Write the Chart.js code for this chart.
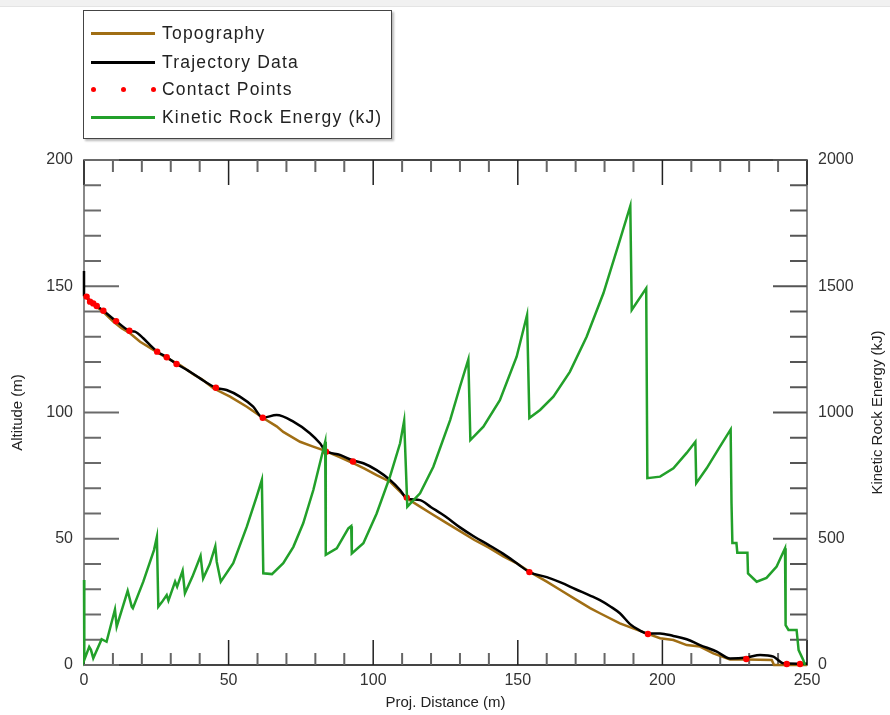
<!DOCTYPE html>
<html>
<head>
<meta charset="utf-8">
<script src="https://cdn.jsdelivr.net/npm/chart.js@4.4.1/dist/chart.umd.min.js"></script>
<style>
  body { margin: 0; background: #fff; }
  #wrap { position: relative; width: 890px; height: 715px; font-family: "Liberation Sans", Arial, sans-serif; }
  #topbar { position: absolute; left: 0; top: 0; width: 890px; height: 6px; background: #f1f1f1; border-bottom: 1px solid #e4e4e4; }
  #legend { position: absolute; left: 83px; top: 10px; width: 307px; height: 127px; border: 1px solid #444; background: #fff; box-shadow: 2px 2px 2px #bbb; }
  .row { position: absolute; left: 0; height: 22px; width: 300px; }
  .row .ln { position: absolute; left: 7px; top: 10px; width: 64px; border-top: 3px solid; }
  .row .dot { position: absolute; top: 9px; width: 5px; height: 5px; border-radius: 50%; background: #f00; }
  .row .tx { position: absolute; left: 78px; top: 0; font-size: 17.5px; letter-spacing: 1.2px; line-height: 22px; color: #222; white-space: nowrap; }
</style>
</head>
<body>
<div id="wrap">
  <canvas id="chart" width="890" height="715"></canvas>
  <div id="topbar"></div>
  <div id="legend">
    <div class="row" style="top:11px"><div class="ln" style="border-color:#a06e14"></div><div class="tx">Topography</div></div>
    <div class="row" style="top:40px"><div class="ln" style="border-color:#000"></div><div class="tx">Trajectory Data</div></div>
    <div class="row" style="top:67px"><div class="dot" style="left:7px"></div><div class="dot" style="left:37px"></div><div class="dot" style="left:67px"></div><div class="tx">Contact Points</div></div>
    <div class="row" style="top:95px"><div class="ln" style="border-color:#22a02a"></div><div class="tx">Kinetic Rock Energy (kJ)</div></div>
  </div>
</div>
<script>
// ground profile (m)
const topoX = [0, 1, 2.1, 4.4, 6.7, 10.1, 13, 15.9, 19.4, 24, 28.6, 33.2, 38, 41, 44.7, 50.5, 56.3, 61.8, 66.6, 68.9, 74.7, 79, 82.7, 88, 92, 97, 101.2, 105.8, 111.6, 116.2, 120, 125, 130, 135, 140, 145, 150, 154, 160, 165, 170, 175, 178.4, 185.3, 189.9, 195, 199.2, 203.8, 208.4, 213, 217.6, 223.4, 229.2, 237.8, 238.6, 250];
const topoY = [146.5, 145.5, 143.5, 141.8, 139.8, 136, 133.4, 131.4, 128, 124.8, 121.6, 118.8, 115, 113, 109.6, 106.3, 102.3, 97.9, 94.5, 92.3, 88.4, 86.6, 85.1, 82.5, 80.5, 77.8, 75.2, 72.6, 66, 62.7, 60, 56.5, 53, 49.5, 46.5, 43, 40, 37, 33, 29.5, 26, 22.5, 20.5, 16.5, 14.5, 12.3, 10.6, 9.9, 7.9, 7.3, 4.6, 2.2, 2.2, 2, 0, 0];

// rock path (m)
const trajX = [0, 0, 1, 2.1, 4.4, 6.7, 11.1, 15.7, 17.6, 20.5, 23.4, 25.3, 28.6, 32, 36, 40, 45.6, 49.3, 53.9, 58.5, 61.8, 66.6, 72.4, 78.1, 81.6, 83.3, 88.5, 92.6, 96.6, 101.2, 105.8, 109.3, 111.6, 116.2, 120, 125, 130, 135, 140, 145, 150, 154, 160, 165, 170, 175, 178.4, 182, 185.3, 188.8, 192, 194.6, 199.2, 203.8, 208.4, 213, 218.8, 223.4, 229.2, 233.8, 238.4, 241.8, 250];
const trajY = [156, 146.5, 145.9, 143.9, 142.2, 140.3, 136.2, 132.4, 132, 129.4, 126.1, 124.1, 121.9, 119.2, 116.6, 113.6, 109.8, 108.9, 106.3, 102.3, 97.9, 99, 96.4, 91.8, 87.8, 85.1, 83.2, 81.2, 79.9, 77.2, 73.3, 69.3, 66, 65.3, 62.5, 58.8, 54.5, 50.8, 47.5, 44, 40, 36.8, 34.8, 32.6, 30, 27.5, 25.7, 23.2, 20.5, 16.2, 13.8, 12.5, 12.5, 11.5, 10.2, 7.9, 5.3, 2.6, 3, 4, 3.3, 0.7, 0.5];

// impacts
const contactX = [0.9, 2.1, 3.2, 4.4, 6.7, 11.1, 15.7, 25.3, 28.6, 32, 45.6, 61.8, 83.7, 93, 111.6, 154, 195, 229, 243, 247.6];
const contactY = [145.9, 143.9, 143.2, 142.2, 140.3, 136.2, 132.4, 124.1, 121.9, 119.2, 109.8, 97.9, 84.5, 80.6, 66.3, 36.8, 12.3, 2.4, 0.4, 0.4];

// kinetic energy (kJ)
const energyX = [0, 0.1, 1.8, 2.4, 3.2, 6.1, 7.8, 10.7, 11.3, 15.1, 16.5, 16.9, 20.5, 24.2, 25.2, 25.7, 27, 28.6, 29.2, 31.5, 32.2, 34.1, 34.9, 37.5, 40.3, 41.2, 43.5, 45.4, 45.9, 47.3, 51.6, 56.3, 59.7, 61.5, 62, 65, 68.9, 72.4, 75.8, 79.3, 83.4, 83.6, 87.4, 91.4, 92.4, 92.6, 96.6, 101.2, 105.8, 109.3, 110.7, 111.8, 116.2, 120.8, 126.6, 130, 132.9, 133.6, 138.1, 143.8, 149.6, 153.2, 154, 157.7, 162.3, 168, 173.8, 179.6, 185.3, 188.9, 189.4, 194.4, 194.8, 199.2, 203.8, 208.4, 211.4, 211.7, 215.3, 219.9, 223.6, 223.9, 224.2, 225.6, 225.9, 229.4, 229.6, 232.6, 236, 239.5, 242.4, 242.6, 243.6, 246.4, 247.1, 248.7, 249.3];
const energyY = [337, 20, 72, 60, 27, 102, 92, 220, 152, 294, 231, 225, 330, 455, 507, 231, 250, 277, 255, 330, 310, 373, 284, 350, 432, 343, 400, 470, 409, 330, 403, 548, 667, 733, 363, 360, 403, 468, 561, 693, 884, 436, 462, 541, 550, 442, 482, 600, 746, 878, 967, 627, 680, 785, 970, 1102, 1210, 891, 944, 1049, 1221, 1386, 978, 1010, 1063, 1161, 1300, 1472, 1683, 1818, 1406, 1492, 740, 746, 779, 840, 884, 720, 779, 865, 933, 640, 483, 483, 445, 445, 363, 330, 345, 390, 462, 158, 139, 139, 59, 20, 0];

const toPts = (xs, ys) => xs.map((x, i) => ({ x: x, y: ys[i] }));

const isMajor = (v, step) => Math.abs(v / step - Math.round(v / step)) < 1e-6;

// inward tick marks on all four sides + top frame line
const frameTicks = {
  id: "frameTicks",
  beforeDatasetsDraw(chart) {
    const { ctx, chartArea: a, scales } = chart;
    ctx.save();
    ctx.lineWidth = 2;
    ctx.strokeStyle = "#444";
    ctx.beginPath();
    ctx.moveTo(a.left, a.top);
    ctx.lineTo(a.right, a.top);
    ctx.stroke();

    scales.x.ticks.forEach((t) => {
      const px = scales.x.getPixelForValue(t.value);
      const len = isMajor(t.value, 50) ? 25 : 12;
      ctx.strokeStyle = isMajor(t.value, 50) ? "#222" : "#666";
      ctx.lineWidth = isMajor(t.value, 50) ? 1.5 : 2;
      ctx.beginPath();
      ctx.moveTo(px, a.bottom);
      ctx.lineTo(px, a.bottom - len);
      ctx.moveTo(px, a.top);
      ctx.lineTo(px, a.top + len);
      ctx.stroke();
    });
    scales.y.ticks.forEach((t) => {
      const py = scales.y.getPixelForValue(t.value);
      const len = isMajor(t.value, 50) ? 35 : 17;
      ctx.strokeStyle = "#6a6a6a";
      ctx.lineWidth = 2;
      ctx.beginPath();
      ctx.moveTo(a.left, py);
      ctx.lineTo(a.left + len, py);
      ctx.stroke();
    });
    scales.y1.ticks.forEach((t) => {
      const py = scales.y1.getPixelForValue(t.value);
      const len = isMajor(t.value, 500) ? 34 : 17;
      ctx.strokeStyle = "#555";
      ctx.lineWidth = 2;
      ctx.beginPath();
      ctx.moveTo(a.right, py);
      ctx.lineTo(a.right - len, py);
      ctx.stroke();
    });
    ctx.restore();
  },
  afterDraw(chart) {
    const { ctx, chartArea: a } = chart;
    ctx.save();
    ctx.translate(878, (a.top + a.bottom) / 2);
    ctx.rotate(-Math.PI / 2);
    ctx.font = '15px "Liberation Sans", Arial, sans-serif';
    ctx.fillStyle = "#222";
    ctx.textAlign = "center";
    ctx.textBaseline = "middle";
    ctx.fillText("Kinetic Rock Energy (kJ)", 0, 0);
    ctx.restore();
  },
};

const tickFont = { family: '"Liberation Sans", Arial, sans-serif', size: 16 };
const titleFont = { family: '"Liberation Sans", Arial, sans-serif', size: 15 };

new Chart(document.getElementById("chart"), {
  type: "line",
  data: {
    datasets: [
      {
        label: "Topography",
        data: toPts(topoX, topoY),
        borderColor: "#a06e14",
        borderWidth: 2.5,
        pointRadius: 0,
        yAxisID: "y",
        order: 4,
        clip: 6,
      },
      {
        label: "Trajectory Data",
        data: toPts(trajX, trajY),
        borderColor: "#000",
        borderWidth: 2.5,
        pointRadius: 0,
        cubicInterpolationMode: "monotone",
        yAxisID: "y",
        order: 3,
        clip: 6,
      },
      {
        label: "Contact Points",
        data: toPts(contactX, contactY),
        showLine: false,
        pointRadius: 3.2,
        pointBackgroundColor: "#f00",
        pointBorderWidth: 0,
        yAxisID: "y",
        order: 2,
        clip: 6,
      },
      {
        label: "Kinetic Rock Energy (kJ)",
        data: toPts(energyX, energyY),
        borderColor: "#22a02a",
        borderWidth: 2.5,
        pointRadius: 0,
        yAxisID: "y1",
        order: 1,
        clip: 6,
      },
    ],
  },
  options: {
    responsive: false,
    animation: false,
    layout: { padding: { top: 160, right: 0, bottom: 0, left: 0 } },
    plugins: { legend: { display: false }, tooltip: { enabled: false } },
    scales: {
      x: {
        type: "linear",
        min: 0,
        max: 250,
        afterFit: (s) => { s.height = 50; },
        grid: { display: false, drawTicks: false },
        border: { display: true, color: "#444", width: 2 },
        ticks: {
          stepSize: 10,
          autoSkip: false,
          maxRotation: 0,
          padding: 6,
          color: "#333",
          font: tickFont,
          callback: (v) => (isMajor(v, 50) ? v : ""),
        },
        title: { display: true, text: "Proj. Distance (m)", color: "#222", font: titleFont, padding: { top: 0, bottom: 3 } },
      },
      y: {
        type: "linear",
        position: "left",
        min: 0,
        max: 200,
        afterFit: (s) => { s.width = 84; },
        grid: { display: false, drawTicks: false },
        border: { display: true, color: "#888", width: 2 },
        ticks: {
          stepSize: 10,
          autoSkip: false,
          padding: 11,
          color: "#333",
          font: tickFont,
          callback: (v) => (isMajor(v, 50) ? v : ""),
        },
        title: { display: true, text: "Altitude (m)", color: "#222", font: titleFont, padding: { top: 9, bottom: 0 } },
      },
      y1: {
        type: "linear",
        position: "right",
        min: 0,
        max: 2000,
        afterFit: (s) => { s.width = 83; },
        grid: { display: false, drawTicks: false },
        border: { display: true, color: "#888", width: 2 },
        ticks: {
          stepSize: 100,
          autoSkip: false,
          padding: 11,
          color: "#333",
          font: tickFont,
          callback: (v) => (isMajor(v, 500) ? v : ""),
        },
      },
    },
  },
  plugins: [frameTicks],
});
</script>
</body>
</html>
